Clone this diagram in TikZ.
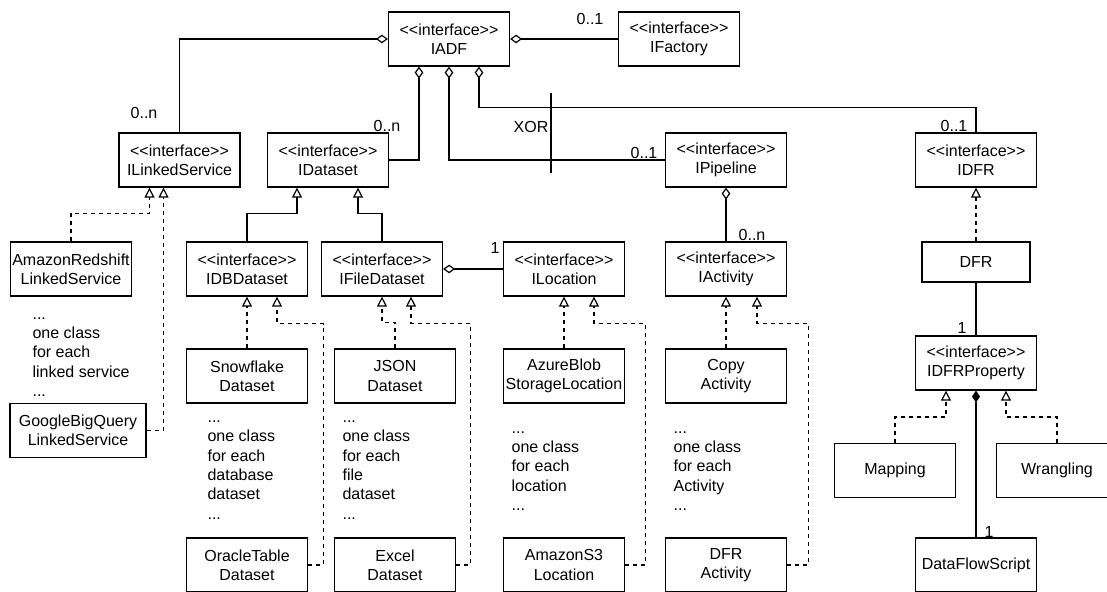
\documentclass[tikz,border=0pt]{standalone}
\usepackage{fontspec}
\setmainfont{Liberation Sans}
\usetikzlibrary{arrows.meta,calc}
\newcommand{\interfacetag}{<\kern0pt<interface>\kern0pt>}

\begin{document}
\begin{tikzpicture}[x=0.75pt, y=-0.75pt, line width=0.9pt,
	every node/.style={font=\fontsize{12}{14.5}\selectfont},
	classbox/.style={draw, rectangle, align=center, minimum width=90.75pt, minimum height=40.5pt, inner sep=1pt},
	notetext/.style={align=left, anchor=west, inner sep=0pt},
	multlabel/.style={inner sep=0pt},
	aggr/.style={{Diamond[open,length=9pt,width=6.5pt]}-},
	comp/.style={{Diamond[length=9pt,width=6pt]}-},
	genl/.style={-{Triangle[open,length=7.5pt,width=7.5pt]}},
	real/.style={genl, dash pattern=on 3pt off 3pt}]
	\clip (0,0) rectangle (1107,592);
	\node[classbox] (IADF) at (449, 39) {\interfacetag\\IADF};
	\node[classbox] (IFactory) at (679, 39) {\interfacetag\\IFactory};
	\node[classbox] (ILinkedService) at (179.5, 160) {\interfacetag\\ILinkedService};
	\node[classbox] (IDataset) at (328, 160) {\interfacetag\\IDataset};
	\node[classbox] (IPipeline) at (726, 160) {\interfacetag\\IPipeline};
	\node[classbox] (IDFR) at (976, 160) {\interfacetag\\IDFR};
	\node[classbox] (AmazonRedshift) at (71, 269) {AmazonRedshift\\LinkedService};
	\node[classbox] (IDBDataset) at (247, 269) {\interfacetag\\IDBDataset};
	\node[classbox] (IFileDataset) at (382, 269) {\interfacetag\\IFileDataset};
	\node[classbox] (ILocation) at (564, 269) {\interfacetag\\ILocation};
	\node[classbox] (IActivity) at (726, 269) {\interfacetag\\IActivity};
	\node[classbox, minimum width=81pt, minimum height=30pt] (DFR) at (976, 262) {DFR};
	\node[classbox] (Snowflake) at (247, 376) {Snowflake\\Dataset};
	\node[classbox] (JSON) at (395, 376) {JSON\\Dataset};
	\node[classbox] (AzureBlob) at (564, 376) {AzureBlob\\StorageLocation};
	\node[classbox] (CopyActivity) at (726, 376) {Copy\\Activity};
	\node[classbox] (IDFRProperty) at (976, 363) {\interfacetag\\IDFRProperty};
	\node[classbox, minimum width=102pt] (GoogleBigQuery) at (78, 430.5) {GoogleBigQuery\\LinkedService};
	\node[classbox] (Mapping) at (895, 470.5) {Mapping};
	\node[classbox] (Wrangling) at (1057, 470.5) {Wrangling};
	\node[classbox] (OracleTable) at (247, 565) {OracleTable\\Dataset};
	\node[classbox] (Excel) at (395, 565) {Excel\\Dataset};
	\node[classbox] (AmazonS3) at (564, 565) {AmazonS3\\Location};
	\node[classbox] (DFRActivity) at (726, 565) {DFR\\Activity};
	\node[classbox] (DataFlowScript) at (976, 565) {DataFlowScript};
	% notes for the omitted classes
	\node[notetext] (linkedNote) at (32, 357) {...\\one class\\for each\\linked service\\...};
	\node[notetext] (dbNote) at (207, 470) {...\\one class\\for each\\database\\dataset\\...};
	\node[notetext] (fileNote) at (342, 470) {...\\one class\\for each\\file\\dataset\\...};
	\node[notetext] (locationNote) at (511, 471) {...\\one class\\for each\\location\\...};
	\node[notetext] (activityNote) at (673, 471) {...\\one class\\for each\\Activity\\...};
	% multiplicities
	\node[multlabel] (mLinked) at (144, 113) {0..n};
	\node[multlabel] (mDataset) at (387, 126) {0..n};
	\node[multlabel] (mFactory) at (590, 19) {0..1};
	\node[multlabel] (mPipeline) at (644, 153) {0..1};
	\node[multlabel] (mDFR) at (954, 126) {0..1};
	\node[multlabel] (mActivity) at (752, 235) {0..n};
	\node[multlabel] (mLocation) at (495, 248) {1};
	\node[multlabel] (mProperty) at (962, 328) {1};
	\node[multlabel] (mScript) at (989, 532) {1};
	\node[multlabel] (xorLabel) at (531, 127) {XOR};
	\coordinate (xorTop) at (551, 93);
	\coordinate (xorBot) at (551, 173);
	% aggregations
	\draw[aggr] (IADF.west) -| (ILinkedService.north);
	\draw[aggr] (IADF.east) -- (IFactory.west);
	\draw[aggr] ($(IADF.south)+(-30,0)$) |- (IDataset.east);
	\draw[aggr] (IADF.south) |- (IPipeline.west);
	\draw[aggr] ($(IADF.south)+(30,0)$) -- ++(0,41) -| (IDFR.north);
	\draw (xorTop) -- (xorBot);
	\draw[aggr] (IPipeline.south) -- (IActivity.north);
	\draw[aggr] (IFileDataset.east) -- (ILocation.west);
	\draw (DFR.south) -- (IDFRProperty.north);
	\draw[comp] (IDFRProperty.south) -- (DataFlowScript.north);
	% inheritance
	\draw[genl] (IDBDataset.north) -- ++(0,-28) -| ($(IDataset.south)+(-31,0)$);
	\draw[genl] (IFileDataset.north) -- ++(0,-28) -| ($(IDataset.south)+(30,0)$);
	% realizations
	\draw[real] (AmazonRedshift.north) -- ++(0,-28) -| ($(ILinkedService.south)+(-30,0)$);
	\draw[real] (GoogleBigQuery.east) -| ($(ILinkedService.south)+(-16,0)$);
	\draw[real] (Snowflake.north) -- (IDBDataset.south);
	\draw[real] (OracleTable.east) -- ++(15,0) |- ($(IDBDataset.south)+(30,27)$) -- ($(IDBDataset.south)+(30,0)$);
	\draw[real] (JSON.north) -- ++(0,-26) -| (IFileDataset.south);
	\draw[real] (Excel.east) -- ++(14,0) |- ($(IFileDataset.south)+(29,27)$) -- ($(IFileDataset.south)+(29,0)$);
	\draw[real] (AzureBlob.north) -- (ILocation.south);
	\draw[real] (AmazonS3.east) -- ++(20,0) |- ($(ILocation.south)+(30,27)$) -- ($(ILocation.south)+(30,0)$);
	\draw[real] (CopyActivity.north) -- (IActivity.south);
	\draw[real] (DFRActivity.east) -- ++(21,0) |- ($(IActivity.south)+(31,27)$) -- ($(IActivity.south)+(31,0)$);
	\draw[real] (DFR.north) -- (IDFR.south);
	\draw[real] (Mapping.north) -- ++(0,-26) -| ($(IDFRProperty.south)+(-30,0)$);
	\draw[real] (Wrangling.north) -- ++(0,-26) -| ($(IDFRProperty.south)+(30,0)$);
\end{tikzpicture}
\end{document}
